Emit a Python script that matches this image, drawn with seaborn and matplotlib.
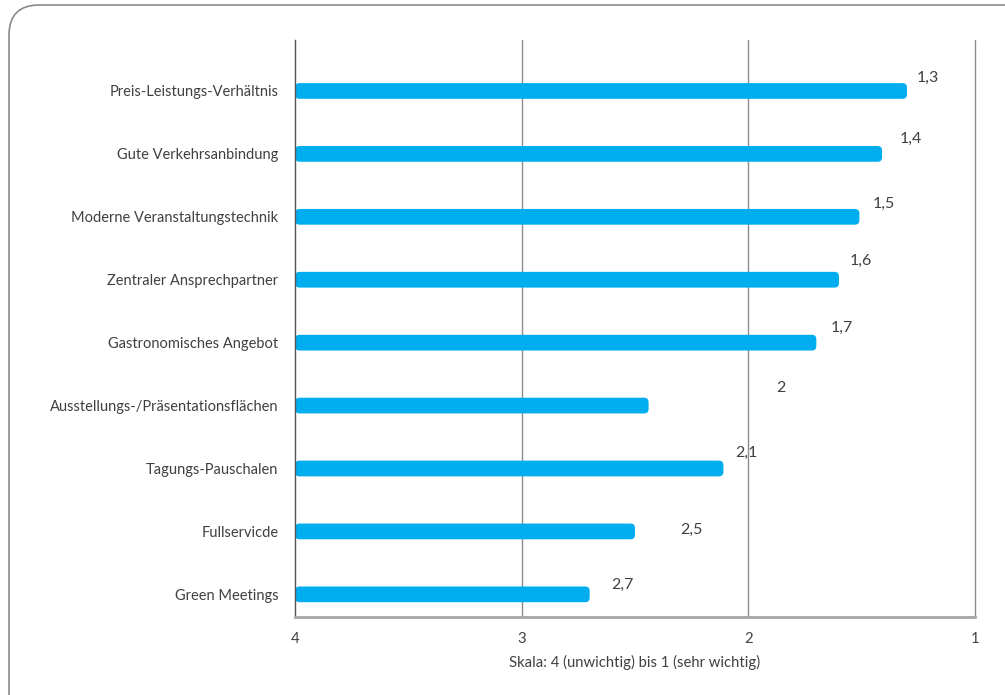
import matplotlib
matplotlib.use('Agg')
import matplotlib.pyplot as plt
import seaborn as sns
import pandas as pd
from matplotlib.patches import FancyBboxPatch

# Daten
kriterien = [
    'Preis-Leistungs-Verhältnis',
    'Gute Verkehrsanbindung',
    'Moderne Veranstaltungstechnik',
    'Zentraler Ansprechpartner',
    'Gastronomisches Angebot',
    'Ausstellungs-/Präsentationsflächen',
    'Tagungs-Pauschalen',
    'Fullservicde',
    'Green Meetings',
]
balken_werte = [1.30, 1.41, 1.51, 1.60, 1.70, 2.44, 2.11, 2.50, 2.70]
wert_labels = ['1,3', '1,4', '1,5', '1,6', '1,7', '2', '2,1', '2,5', '2,7']
skala = [4, 3, 2, 1]

# Label-Versatz in Pixel (dx, dy) relativ zum Balkenende
label_offsets = [(21, 13), (29, 15), (24, 13), (22, 19), (25, 15),
                 (132, 18), (23, 16), (56, 2), (33, 9)]

blau = '#00AEEF'
text_farbe = '#404040'

sns.set_style('white')
plt.rcParams['font.family'] = ['Lato', 'DejaVu Sans']

df = pd.DataFrame({'kriterium': kriterien, 'wert': balken_werte})
# Balken beginnen bei 4 (unwichtig) und laufen Richtung 1 (sehr wichtig)
df['laenge'] = max(skala) - df['wert']

fig = plt.figure(figsize=(10.05, 6.95), dpi=100)
ax = fig.add_axes([295 / 1005, 1 - 617 / 695, 680 / 1005, 577 / 695])

# Gitterlinien (unter den Balken)
for s in skala[1:]:
    ax.axvline(max(skala) - s, color='#8c8c8c', linewidth=1, zorder=0,
               clip_on=False)

sns.barplot(data=df, x='laenge', y='kriterium', orient='h', color=blau,
            saturation=1, width=0.25, ax=ax)

# Balken mit leicht abgerundeten Ecken
for rect in list(ax.patches):
    x, y = rect.get_x(), rect.get_y()
    w, h = rect.get_width(), rect.get_height()
    rect.remove()
    ax.add_patch(FancyBboxPatch((x, y), w, h,
                                boxstyle='round,pad=0,rounding_size=0.02',
                                mutation_aspect=3.6, facecolor=blau,
                                edgecolor='none', zorder=2))

ax.set_xlim(0, max(skala) - min(skala))
ax.set_ylim(len(kriterien) - 1 + 0.36, -0.81)

ax.set_xticks([max(skala) - s for s in skala])
ax.set_xticklabels([str(s) for s in skala])
ax.grid(False)

for sp in ['top', 'right']:
    ax.spines[sp].set_visible(False)
ax.spines['left'].set_color('#555555')
ax.spines['left'].set_linewidth(1)
ax.spines['bottom'].set_color('#a6a6a6')
ax.spines['bottom'].set_linewidth(2)

ax.tick_params(axis='y', length=0, pad=12, labelsize=10.5, labelcolor=text_farbe)
ax.tick_params(axis='x', length=0, pad=11, labelsize=10.7, labelcolor=text_farbe)
ax.set_ylabel('')
ax.set_xlabel('Skala: 4 (unwichtig) bis 1 (sehr wichtig)', fontsize=10.7,
              color=text_farbe, labelpad=6)

# Werte-Beschriftung
for i, (lab, (dx, dy)) in enumerate(zip(wert_labels, label_offsets)):
    ax.annotate(lab, xy=(df['laenge'][i], i), xytext=(dx, dy),
                textcoords='offset pixels', ha='center', va='center',
                fontsize=11.5, color=text_farbe)

# Abgerundeter Rahmen um die Grafik
rahmen = FancyBboxPatch((9 / 1005, -0.05), 1.1, 0.05 + 1 - 5 / 695,
                        boxstyle='round,pad=0,rounding_size=0.03',
                        transform=fig.transFigure, facecolor='none',
                        edgecolor='#8a8a8a', linewidth=1.2,
                        mutation_aspect=1005 / 695, clip_on=False)
fig.patches.append(rahmen)

fig.savefig('out.png', dpi=100, facecolor='white')
